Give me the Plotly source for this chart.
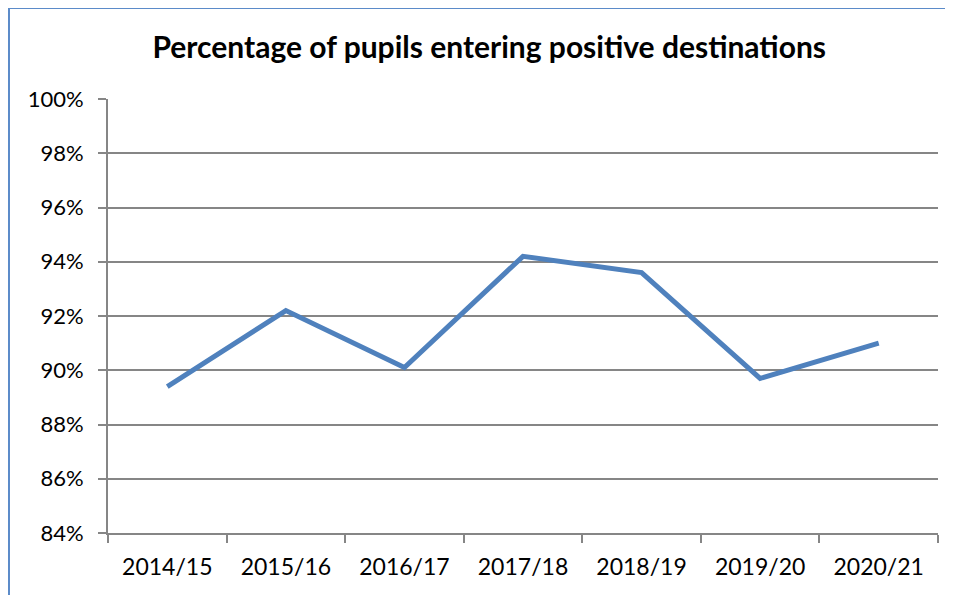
import plotly.graph_objects as go

categories = ["2014/15", "2015/16", "2016/17", "2017/18", "2018/19", "2019/20", "2020/21"]
values = [0.894, 0.922, 0.901, 0.942, 0.936, 0.897, 0.910]
y_ticks = [0.84, 0.86, 0.88, 0.90, 0.92, 0.94, 0.96, 0.98, 1.00]

FONT = "Lato, Carlito, Calibri, sans-serif"
GRID = "#868686"

fig = go.Figure()
fig.add_trace(go.Scatter(
    x=categories, y=values, mode="lines",
    line=dict(color="#4F81BD", width=5),
    hoverinfo="skip", showlegend=False,
))

fig.update_layout(
    width=953, height=595,
    margin=dict(l=100, r=23, t=91, b=70),
    paper_bgcolor="white", plot_bgcolor="white",
    title=dict(text="<b>Percentage of pupils entering positive destinations</b>",
               x=0.505, xanchor="center", y=0.933, yanchor="middle",
               font=dict(family=FONT, size=30, color="black")),
    font=dict(family=FONT, size=23, color="black"),
    shapes=[dict(type="rect", xref="paper", yref="paper",
                 x0=-0.1193, x1=1.2, y0=-0.3, y1=1.2097,
                 line=dict(color="#5B8BC9", width=2))],
)

fig.update_xaxes(
    type="category", range=[-0.5, 6.5],
    showgrid=False, showline=True, linecolor=GRID, linewidth=2,
    ticks="outside", tickson="boundaries", ticklen=8, tickwidth=2, tickcolor=GRID,
    tickfont=dict(family=FONT, size=23, color="black"),
    ticklabelstandoff=12,
)
fig.update_yaxes(
    range=[0.84, 1.00], tickvals=y_ticks, tickformat=".0%",
    showgrid=True, gridcolor=GRID, gridwidth=2,
    showline=True, linecolor=GRID, linewidth=2,
    ticks="outside", ticklen=8, tickwidth=2, tickcolor=GRID,
    tickfont=dict(family=FONT, size=22, color="black"),
    ticklabelstandoff=10, zeroline=False,
)

fig.write_html("out.html")
